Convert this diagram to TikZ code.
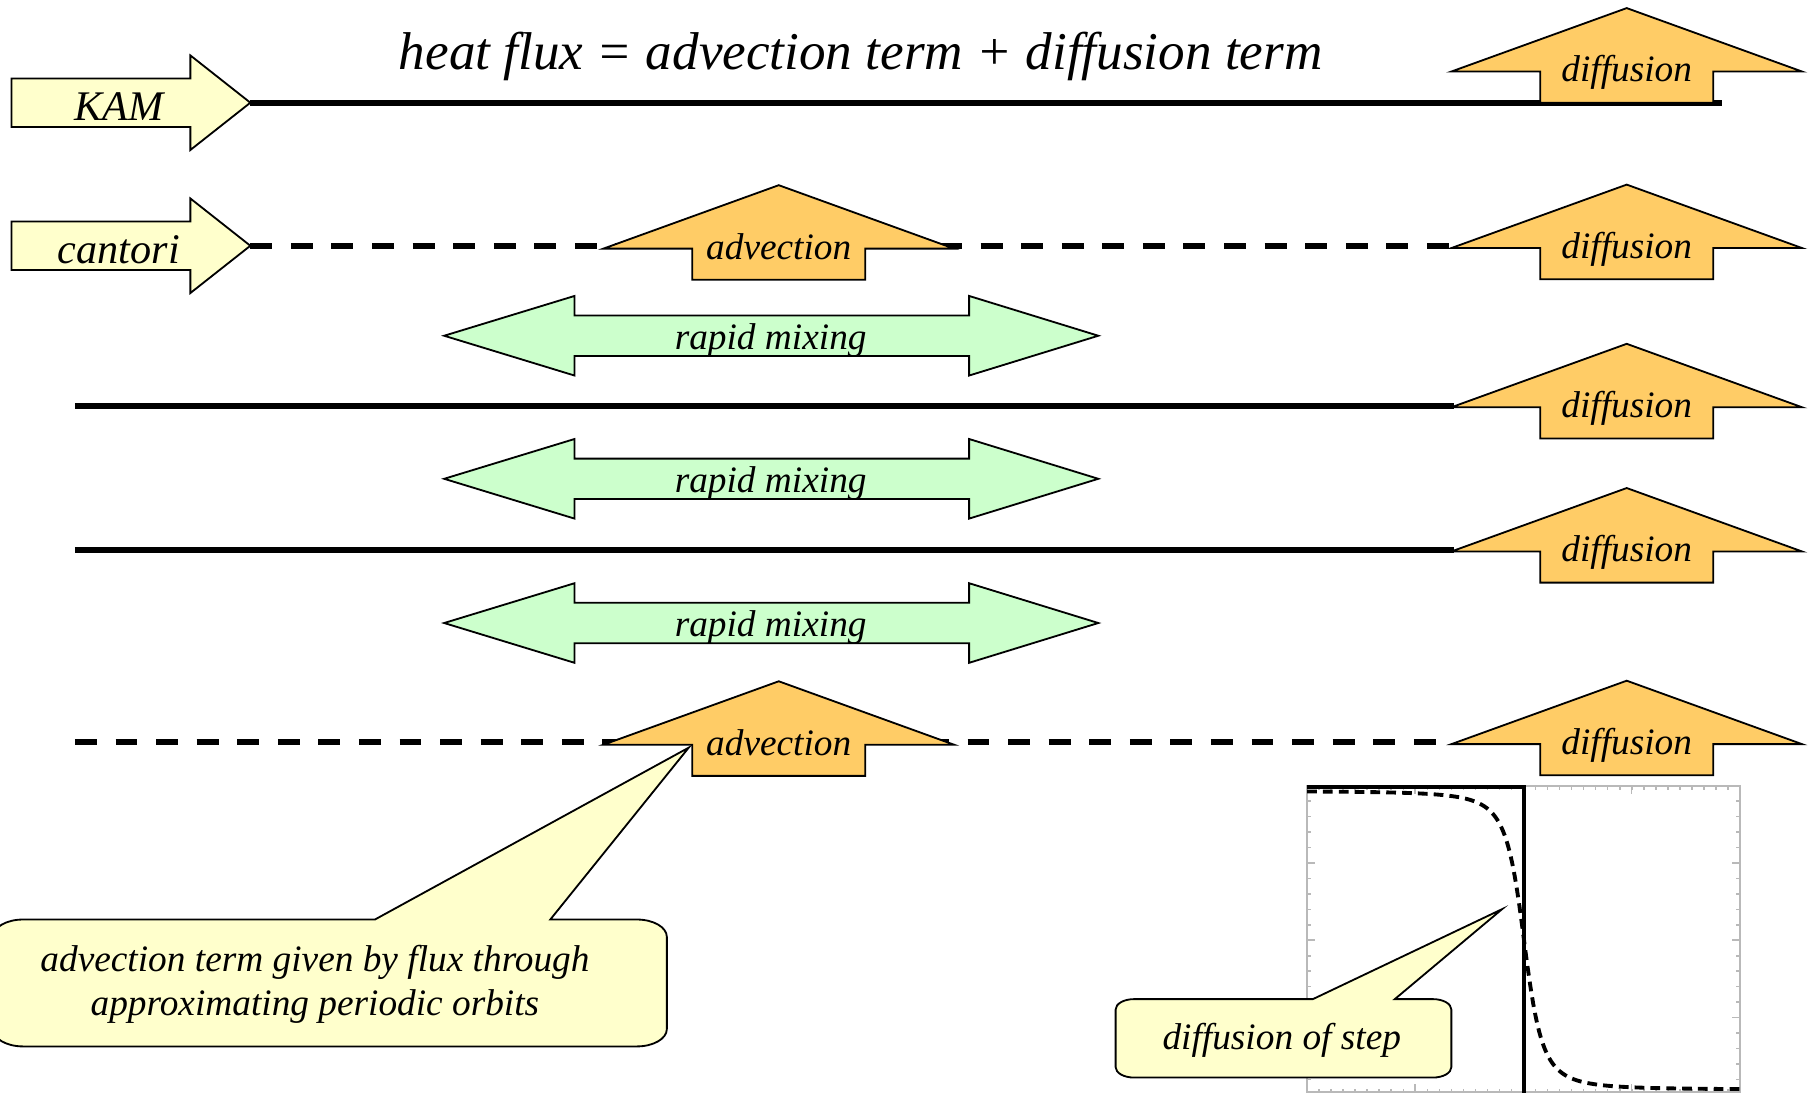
\documentclass[tikz,border=0pt]{standalone}
\usepackage{fontspec}
\setmainfont{Liberation Serif}
\definecolor{tagyellow}{RGB}{255,255,204}
\definecolor{fluxorange}{RGB}{255,204,102}
\definecolor{mixgreen}{RGB}{204,255,204}
\definecolor{axisgray}{RGB}{185,185,185}
\tikzset{
  outline/.style={draw=black, line width=0.45pt},
  tagarrow/.style={outline, fill=tagyellow},
  fluxarrow/.style={outline, fill=fluxorange},
  mixarrow/.style={outline, fill=mixgreen},
  bubble/.style={outline, fill=tagyellow},
  surface/.style={line width=1.4pt},
  cantorus/.style={line width=1.4pt, dash pattern=on 5.4pt off 4.6pt},
  lbl/.style={font=\fontsize{9.2}{10.8}\selectfont\itshape, inner sep=0pt, anchor=base},
  tag/.style={font=\fontsize{10.4}{12}\selectfont\itshape, inner sep=0pt, anchor=base},
  headline/.style={font=\fontsize{13.1}{15}\selectfont\itshape, inner sep=0pt, anchor=base},
  frame/.style={draw=axisgray, line width=0.4pt},
  stepline/.style={line width=0.95pt},
  profile/.style={line width=0.95pt, dash pattern=on 2.4pt off 1.5pt},
}
\begin{document}
\begin{tikzpicture}[x=0.01cm, y=-0.01cm]
    \useasboundingbox (0,0) rectangle (1568,947);
    \node[headline] (title) at (746,60) {heat flux = advection term + diffusion term};

    % inset: step and its diffused profile
    \foreach \k in {1,...,19}
        \draw[frame] (1133,681+13.4*\k) -- ++(3.5,0) (1508,681+13.4*\k) -- ++(-3.5,0);
    \foreach \k in {5,10,15}
        \draw[frame] (1133,681+13.4*\k) -- ++(7,0) (1508,681+13.4*\k) -- ++(-7,0);
    \foreach \k in {1,...,35}
        \draw[frame] (1133+10.42*\k,681) -- ++(0,3.5) (1133+10.42*\k,947) -- ++(0,-3.5);
    \foreach \k in {1,2,3}
        \draw[frame] (1133+93.75*\k,681) -- ++(0,7) (1133+93.75*\k,947) -- ++(0,-7);
    \draw[frame] (1133,681) rectangle (1508,946.5);
    \draw[stepline] (1133,682) -- (1321,682) -- (1321,947);
    \draw[profile] plot[domain=-18.8:18.7, samples=150, smooth]
        ({1321+10*\x}, {815+129.5*\x/sqrt(\x*\x+2.89)});

    % flux surfaces
    \coordinate (r1a) at (217,89);  \coordinate (r1b) at (1493,89);
    \coordinate (r2a) at (217,213); \coordinate (r2b) at (1260,213);
    \coordinate (r3a) at (65,352);  \coordinate (r3b) at (1260,352);
    \coordinate (r4a) at (65,477);  \coordinate (r4b) at (1260,477);
    \coordinate (r5a) at (65,643);  \coordinate (r5b) at (1260,643);
    \draw[surface] (r1a) -- (r1b);
    \draw[cantorus] (r2a) -- (r2b);
    \draw[surface] (r3a) -- (r3b);
    \draw[surface] (r4a) -- (r4b);
    \draw[cantorus] (r5a) -- (r5b);

    % KAM / cantori tags
    \foreach \y/\name/\txt in {89/kam/KAM, 213/cantori/cantori}{
        \filldraw[tagarrow] (10,\y-21) -- (165,\y-21) -- (165,\y-41) -- (217,\y)
            -- (165,\y+41) -- (165,\y+21) -- (10,\y+21) -- cycle;
        \node[tag] (\name) at (103,\y+15) {\txt};
    }

    % rapid mixing between surfaces
    \foreach \y [count=\i] in {291,415,540}{
        \filldraw[mixarrow] (385,\y) -- (498,\y-34.5) -- (498,\y-17.5) -- (840,\y-17.5)
            -- (840,\y-34.5) -- (952,\y) -- (840,\y+34.5) -- (840,\y+17.5)
            -- (498,\y+17.5) -- (498,\y+34.5) -- cycle;
        \node[lbl] (mix\i) at (668,\y+12) {rapid mixing};
    }

    % advection and diffusion terms
    \foreach \cx/\yb/\name/\txt in {1410/62/dif1/diffusion, 675/215.5/adv2/advection,
        1410/215/dif2/diffusion, 1410/353/dif3/diffusion, 1410/478/dif4/diffusion,
        675/645.5/adv5/advection, 1410/645/dif5/diffusion}{
        \filldraw[fluxarrow] (\cx,\yb-55) -- (\cx+152,\yb) -- (\cx+75,\yb) -- (\cx+75,\yb+27)
            -- (\cx-75,\yb+27) -- (\cx-75,\yb) -- (\cx-152,\yb) -- cycle;
        \node[lbl] (\name) at (\cx,\yb+9) {\txt};
    }

    % callouts
    \filldraw[bubble] (20,797) -- (325,797) -- (597,648) -- (477,797) -- (552,797)
        .. controls (566.4,797) and (578,803.7) .. (578,812) -- (578,892)
        .. controls (578,900.3) and (566.4,907) .. (552,907) -- (20,907)
        .. controls (5.6,907) and (-6,900.3) .. (-6,892) -- (-6,812)
        .. controls (-6,803.7) and (5.6,797) .. cycle;
    \node[lbl, anchor=center, align=center] (orbits) at (273,853)
        {advection term given by flux through\\approximating periodic orbits};
    \filldraw[bubble] (983,866) -- (1138,866) -- (1302,788) -- (1209,866) -- (1242,866)
        .. controls (1250.8,866) and (1258,870) .. (1258,875) -- (1258,925)
        .. controls (1258,930) and (1250.8,934) .. (1242,934) -- (983,934)
        .. controls (974.2,934) and (967,930) .. (967,925) -- (967,875)
        .. controls (967,870) and (974.2,866) .. cycle;
    \node[lbl] (stepnote) at (1111,910) {diffusion of step};
\end{tikzpicture}
\end{document}
